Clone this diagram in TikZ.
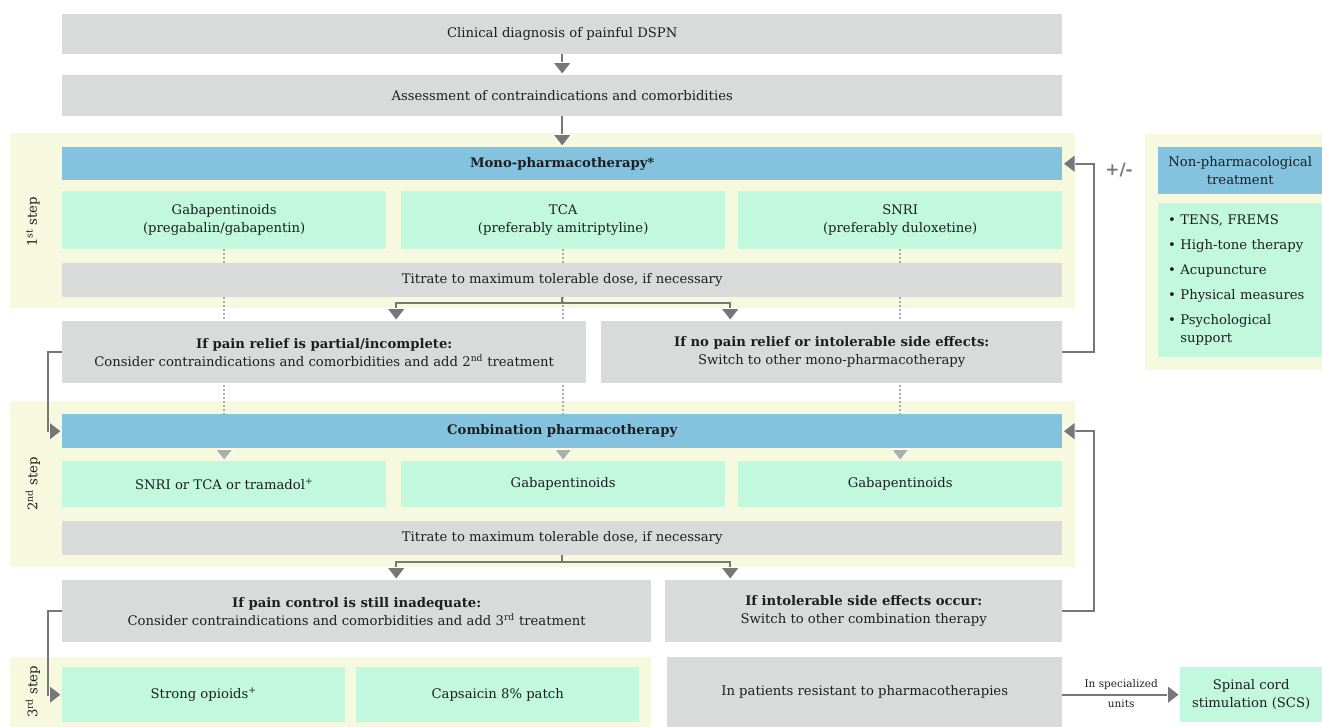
\documentclass[tikz,border=0pt]{standalone}
\usepackage{fontspec}
\setmainfont{DejaVu Serif}
\usetikzlibrary{arrows.meta,calc}
\definecolor{FigureGray}{HTML}{D9DADA}
\definecolor{FigureBlue}{HTML}{84C3E0}
\definecolor{FigureMint}{HTML}{C1F8DE}
\definecolor{FigurePanel}{HTML}{F7F9DF}
\definecolor{FigureLine}{HTML}{777777}
\definecolor{FigureDot}{HTML}{ADADAD}
\definecolor{FigureText}{HTML}{1E1E1E}
\pgfdeclarelayer{background}
\pgfsetlayers{background,main}

\begin{document}
\begin{tikzpicture}[x=1pt,y=-1pt,font=\fontsize{13.2}{18}\selectfont,
  cell/.style={anchor=north west,inner sep=0pt,align=center,text=FigureText},
  greybox/.style={cell,fill=FigureGray},
  bluebar/.style={cell,fill=FigureBlue,font=\fontsize{13.2}{18}\selectfont\bfseries},
  mintbox/.style={cell,fill=FigureMint},
  link/.style={draw=FigureLine,line width=2pt},
  arr/.style={link,-{Triangle[width=20pt,length=13pt,line width=0.8pt,color=white,fill=FigureLine]}},
  hint/.style={draw=FigureDot,line width=1.8pt,dash pattern=on 2pt off 2pt,
    -{Triangle[width=19pt,length=12pt,line width=0.8pt,color=white,fill=FigureDot]}}]
  \useasboundingbox (0,0) rectangle (1322,727);
  \node[greybox,minimum width=1000,minimum height=40] (diag) at (62,14) {Clinical diagnosis of painful DSPN};
  \node[greybox,minimum width=1000,minimum height=41] (assess) at (62,75) {Assessment of contraindications and comorbidities};
  % 1st step
  \node[bluebar,minimum width=1000,minimum height=33] (mono) at (62,147) {Mono-pharmacotherapy*};
  \node[mintbox,minimum width=324,minimum height=58] (gaba1) at (62,191) {Gabapentinoids\\(pregabalin/gabapentin)};
  \node[mintbox,minimum width=324,minimum height=58] (tca1) at (401,191) {TCA\\(preferably amitriptyline)};
  \node[mintbox,minimum width=324,minimum height=58] (snri1) at (738,191) {SNRI\\(preferably duloxetine)};
  \node[greybox,minimum width=1000,minimum height=34] (titr1) at (62,263) {Titrate to maximum tolerable dose, if necessary};
  \node[rotate=90,text=FigureText] (step1) at (33,222) {1\textsuperscript{st} step};
  \node[greybox,minimum width=524,minimum height=62] (partial) at (62,321)
    {\textbf{If pain relief is partial/incomplete:}\\Consider contraindications and comorbidities and add 2\textsuperscript{nd} treatment};
  \node[greybox,minimum width=461,minimum height=62] (norelief) at (601,321)
    {\textbf{If no pain relief or intolerable side effects:}\\Switch to other mono-pharmacotherapy};
  % 2nd step
  \node[bluebar,minimum width=1000,minimum height=34] (combo) at (62,414) {Combination pharmacotherapy};
  \node[mintbox,minimum width=324,minimum height=46] (snri2) at (62,461) {SNRI or TCA or tramadol\textsuperscript{+}};
  \node[mintbox,minimum width=324,minimum height=46] (gaba2) at (401,461) {Gabapentinoids};
  \node[mintbox,minimum width=324,minimum height=46] (gaba3) at (738,461) {Gabapentinoids};
  \node[greybox,minimum width=1000,minimum height=34] (titr2) at (62,521) {Titrate to maximum tolerable dose, if necessary};
  \node[rotate=90,text=FigureText] (step2) at (33,484) {2\textsuperscript{nd} step};
  \node[greybox,minimum width=589,minimum height=62] (inadequate) at (62,580)
    {\textbf{If pain control is still inadequate:}\\Consider contraindications and comorbidities and add 3\textsuperscript{rd} treatment};
  \node[greybox,minimum width=397,minimum height=62] (sideeff) at (665,580)
    {\textbf{If intolerable side effects occur:}\\Switch to other combination therapy};
  % 3rd step
  \node[mintbox,minimum width=283,minimum height=55] (opioids) at (62,667) {Strong opioids\textsuperscript{+}};
  \node[mintbox,minimum width=283,minimum height=55] (capsaicin) at (356,667) {Capsaicin 8\% patch};
  \node[rotate=90,text=FigureText] (step3) at (33,692) {3\textsuperscript{rd} step};
  \node[greybox,minimum width=395,minimum height=70] (resistant) at (667,657) {In patients resistant to pharmacotherapies};
  \node[mintbox,minimum width=142,minimum height=55] (scs) at (1180,667) {Spinal cord\\stimulation (SCS)};
  % non-pharmacological
  \node[bluebar,font=\fontsize{13.2}{18}\selectfont,minimum width=164,minimum height=47] (nphead) at (1158,147) {Non-pharmacological\\treatment};
  \node[mintbox,align=left,inner xsep=10pt,text width=144pt,minimum width=164,minimum height=154] (nplist) at (1158,203)
    {\textbullet\ TENS, FREMS\\[7pt]\textbullet\ High-tone therapy\\[7pt]\textbullet\ Acupuncture\\[7pt]%
     \textbullet\ Physical measures\\[7pt]\textbullet\ Psychological\\\hphantom{\textbullet\ }support};
  \node[font=\fontsize{17}{17}\selectfont\bfseries,text=FigureLine] (pm) at (1119,170) {+/-};

  \draw[arr] (diag) -- (assess);
  \draw[arr] (assess) -- (mono);
  \coordinate (fork1) at ($(titr1.south)+(0,6)$);
  \draw[link] (titr1.south) -- (fork1);
  \draw[arr] (fork1) -| ([xshift=72]partial.north);
  \draw[arr] (fork1) -| ([xshift=-101.5]norelief.north);
  \draw[arr] (norelief.east) -- ++(32,0) |- (mono.east);
  \draw[arr] (partial.west) -- ++(-14,0) |- (combo.west);
  \coordinate (fork2) at ($(titr2.south)+(0,7)$);
  \draw[link] (titr2.south) -- (fork2);
  \draw[arr] (fork2) -| ([xshift=39.5]inadequate.north);
  \draw[arr] (fork2) -| ([xshift=-133.5]sideeff.north);
  \draw[arr] (sideeff.east) -- ++(32,0) |- (combo.east);
  \draw[arr] (inadequate.west) -- ++(-14,0) |- (opioids.west);
  \draw[arr] (resistant.east |- scs.west) --
    node[above=1pt,font=\fontsize{10.5}{12}\selectfont,text=FigureText] {In specialized}
    node[below=1pt,font=\fontsize{10.5}{12}\selectfont,text=FigureText] {units} (scs.west);

  \begin{pgfonlayer}{background}
    \fill[FigurePanel] (10,133) rectangle (1075,308);
    \fill[FigurePanel] (10,401) rectangle (1075,567);
    \fill[FigurePanel] (10,657) rectangle (651,727);
    \fill[FigurePanel] (1145,134) rectangle (1322,370);
    \draw[hint] (gaba1.south) -- (snri2.north);
    \draw[hint] (tca1.south) -- (gaba2.north);
    \draw[hint] (snri1.south) -- (gaba3.north);
  \end{pgfonlayer}
\end{tikzpicture}
\end{document}
